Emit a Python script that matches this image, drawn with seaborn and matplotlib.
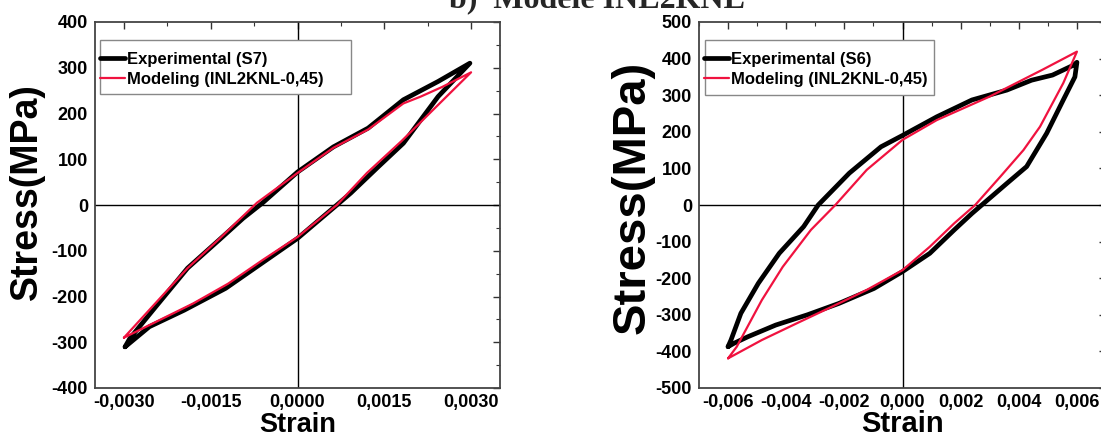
import numpy as np
import pandas as pd
import matplotlib
matplotlib.use("Agg")
import matplotlib.pyplot as plt
from matplotlib.patches import Rectangle
from matplotlib.ticker import MultipleLocator, FuncFormatter
import seaborn as sns

# --- data (strain, stress in MPa) ---
# panel a: specimen S7, upper branch then lower branch
s7_exp_x = [-0.00298, -0.0029, -0.0025, -0.0019, -0.00136, -0.00094, -0.0006, 0.0, 0.00062,
            0.00122, 0.00183, 0.00243, 0.00298,
            0.00243, 0.00183, 0.0014, 0.00092, 0.00068, 0.0, -0.00058, -0.00124, -0.00196,
            -0.00256, -0.00298]
s7_exp_y = [-310, -292, -230, -138, -77, -29, 5, 72, 127, 168, 230, 270, 310,
            237, 135, 84, 26, 0, -73, -124, -182, -230, -266, -310]
s7_mod_x = [-0.003, -0.0019, -0.00136, -0.0007, 0.0, 0.00062, 0.00122, 0.00183, 0.00213, 0.0025,
            0.003,
            0.0024, 0.0018, 0.0012, 0.00068, 0.0, -0.0006, -0.0012, -0.0018, -0.0022, -0.003]
s7_mod_y = [-290, -138, -75, 5, 70, 125, 165, 222, 237, 258, 290,
            215, 140, 70, 0, -70, -120, -172, -215, -240, -290]

# panel b: specimen S6
s6_exp_x = [-0.006, -0.0059, -0.00556, -0.00496, -0.00424, -0.0034, -0.0029, -0.00183, -0.00074,
            0.0, 0.00118, 0.00239, 0.00359, 0.00444, 0.00516, 0.00588, 0.006,
            0.00593, 0.00553, 0.00496, 0.00427, 0.00359, 0.0028, 0.00239, 0.00178, 0.00094,
            0.0, -0.00098, -0.00219, -0.00327, -0.00436, -0.00532, -0.0058, -0.006]
s6_exp_y = [-387, -369, -296, -214, -132, -59, 0, 87, 159, 190, 241, 287, 314, 341, 355, 382,
            390,
            350, 287, 196, 105, 59, 5, -23, -68, -132, -182, -228, -269, -300, -328, -360,
            -378, -387]
s6_mod_x = [-0.006, -0.0057, -0.00484, -0.00412, -0.00315, -0.00231, -0.00123, 0.0, 0.00118,
            0.00299, 0.0048, 0.006,
            0.00553, 0.00473, 0.00416, 0.00336, 0.0025, 0.00178, 0.00094, 0.0, -0.00123,
            -0.00243, -0.00363, -0.00484, -0.006]
s6_mod_y = [-419, -387, -260, -169, -68, 0, 96, 178, 232, 296, 369, 419,
            333, 214, 150, 77, 0, -50, -114, -178, -232, -278, -323, -369, -419]

exp_labels = ["Experimental (S7)", "Experimental (S6)"]
mod_label = "Modeling (INL2KNL-0,45)"
title = "b)  Modèle INL2KNL"

sns.set_theme(style="white")
plt.rcParams["font.family"] = ["Liberation Sans", "DejaVu Sans"]
plt.rcParams["font.weight"] = "bold"
plt.rcParams["axes.unicode_minus"] = False

fig = plt.figure(figsize=(11.01, 4.37), dpi=100)
W, H = 1101, 437
ax1 = fig.add_axes([95 / W, 1 - 388 / H, 405 / W, 366 / H])
ax2 = fig.add_axes([699 / W, 1 - 388 / H, 407 / W, 366 / H])

panels = [
    (ax1, s7_exp_x, s7_exp_y, s7_mod_x, s7_mod_y, exp_labels[0],
     (-0.0035, 0.0035), 0.0015, 0.00075, (-400, 400), 27, 19.5, 4),
    (ax2, s6_exp_x, s6_exp_y, s6_mod_x, s6_mod_y, exp_labels[1],
     (-0.007, 0.007), 0.002, 0.001, (-500, 500), 34, 21, 3),
]

for ax, ex, ey, mx, my, elab, xlim, xmaj, xmin, ylim, ylab_fs, xlab_fs, dec in panels:
    ax.axhline(0, color="black", lw=1.0, zorder=1)
    ax.axvline(0, color="black", lw=1.0, zorder=1)
    df_e = pd.DataFrame({"x": ex, "y": ey})
    df_m = pd.DataFrame({"x": mx, "y": my})
    sns.lineplot(data=df_e, x="x", y="y", sort=False, estimator=None, ax=ax,
                 color="black", lw=3.4, label=elab, zorder=3, solid_joinstyle="round")
    sns.lineplot(data=df_m, x="x", y="y", sort=False, estimator=None, ax=ax,
                 color="#f0123f", lw=1.6, label=mod_label, zorder=4)
    ax.set_xlim(*xlim)
    ax.set_ylim(*ylim)
    ax.xaxis.set_major_locator(MultipleLocator(xmaj))
    ax.xaxis.set_minor_locator(MultipleLocator(xmin))
    ax.yaxis.set_major_locator(MultipleLocator(100))
    ax.yaxis.set_minor_locator(MultipleLocator(50))
    ax.xaxis.set_major_formatter(
        FuncFormatter(lambda v, p, d=dec: f"{0.0 if abs(v) < 1e-12 else v:.{d}f}".replace(".", ",")))
    ax.tick_params(which="both", direction="in", top=True, right=True,
                   labelsize=13, pad=5, color="#333333", labelcolor="black")
    ax.tick_params(axis="x", which="major", pad=4)
    ax.tick_params(which="major", length=5, width=1.0)
    ax.tick_params(which="minor", length=3, width=0.8)
    for lab in ax.get_xticklabels() + ax.get_yticklabels():
        lab.set_fontweight("bold")
    for sp in ax.spines.values():
        sp.set_color("#444444")
        sp.set_linewidth(1.3)
    ax.set_xlabel("Strain", fontsize=xlab_fs, fontweight="bold", color="black")
    ax.xaxis.label.set_verticalalignment("baseline")
    ax.set_ylabel("Stress(MPa)", fontsize=ylab_fs, fontweight="bold", color="black")
    leg = ax.legend(loc="upper left", bbox_to_anchor=(0.012, 0.919), borderaxespad=0,
                    prop={"weight": "bold", "size": 12}, handlelength=1.5,
                    handletextpad=0.1, borderpad=0, labelspacing=0.3, frameon=False)
    for t in leg.get_texts():
        t.set_color("black")

# legend frames (Origin-style box, wider than the text)
ax1.add_patch(Rectangle((5 / 405, 1 - (94 - 22) / 366), 251 / 405, 54 / 366,
                        transform=ax1.transAxes, facecolor="white", edgecolor="#888888",
                        lw=1.0, zorder=5))
ax2.add_patch(Rectangle((5.5 / 407, 1 - (95 - 22) / 366), 229 / 407, 55 / 366,
                        transform=ax2.transAxes, facecolor="white", edgecolor="#888888",
                        lw=1.0, zorder=5))
ax1.get_legend().set_zorder(6)
ax2.get_legend().set_zorder(6)

ax1.yaxis.set_label_coords(-0.123, 0.538)
ax2.yaxis.set_label_coords(-0.108, 0.52)
ax1.xaxis.set_label_coords(0.5, -0.12)
ax2.xaxis.set_label_coords(0.5, -0.12)

fig.text(597 / W, 1 - 7 / H, title, ha="center", va="baseline",
         fontsize=23, fontweight="bold", family=["Liberation Serif", "DejaVu Serif"])

fig.savefig("out.png", dpi=100, facecolor="white")
